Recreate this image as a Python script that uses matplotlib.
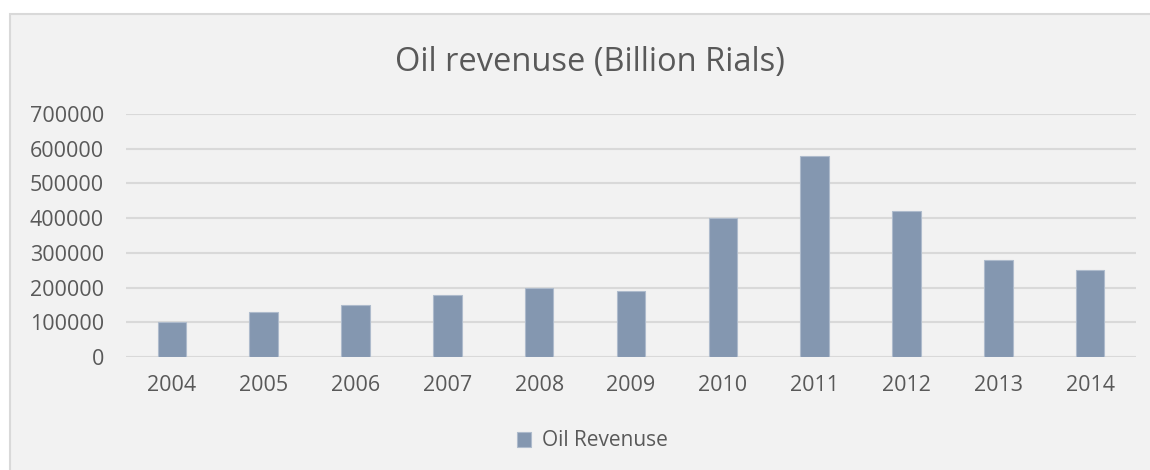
import matplotlib.pyplot as plt
from matplotlib.patches import Rectangle
import numpy as np

# Oil revenue by year (billion rials)
years = ['2004', '2005', '2006', '2007', '2008', '2009',
         '2010', '2011', '2012', '2013', '2014']
revenue = [100000, 130000, 150000, 180000, 200000, 190000,
           400000, 580000, 420000, 280000, 250000]
yticks = [0, 100000, 200000, 300000, 400000, 500000, 600000, 700000]

plt.rcParams['font.family'] = ['Open Sans', 'DejaVu Sans']
txt = '#595959'
bar_c = '#8497b0'

fig = plt.figure(figsize=(11.5, 4.7), dpi=100)
fig.patch.set_facecolor('white')

# chart frame (runs off the right and bottom edges)
fig.patches.append(Rectangle((10/1150, -0.05), 1.1, 1 - 14/470 + 0.05,
                             transform=fig.transFigure, facecolor='#f2f2f2',
                             edgecolor='#d9d9d9', linewidth=1.5, zorder=-5))

ax = fig.add_axes([126/1150, 1 - 357/470, 1010/1150, 243/470])
ax.set_facecolor('none')

x = np.arange(len(years))
ax.bar(x, revenue, width=0.31, color=bar_c, edgecolor='#aebbcc',
       linewidth=0.8, zorder=3, label='Oil Revenuse')

ax.set_xlim(-0.5, len(years) - 0.5)
ax.set_ylim(0, 700000)
ax.set_yticks(yticks)
ax.set_yticklabels([str(v) for v in yticks])
ax.set_xticks(x)
ax.set_xticklabels(years)
ax.grid(axis='y', color='#d9d9d9', linewidth=1.5, zorder=0)
ax.tick_params(axis='both', length=0, labelsize=15.5, labelcolor=txt)
ax.tick_params(axis='x', pad=13)
ax.tick_params(axis='y', pad=16)
for s in ax.spines.values():
    s.set_visible(False)

fig.text(590/1150, 1 - 62/470, 'Oil revenuse (Billion Rials)',
         ha='center', va='center', fontsize=23.5, color=txt)

fig.legend(loc='center', bbox_to_anchor=(592/1150, 1 - 441/470),
           frameon=False, fontsize=15, labelcolor=txt,
           handlelength=0.7, handleheight=0.7, handletextpad=0.5)

fig.savefig('out.png', dpi=100, facecolor='white')
